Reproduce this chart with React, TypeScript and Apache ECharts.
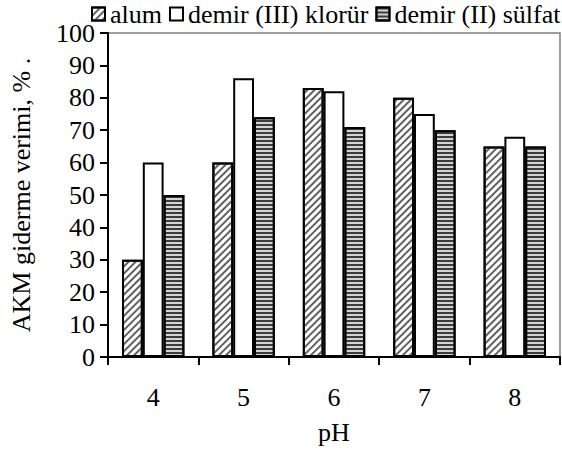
import React, { useEffect, useRef } from "react";
import * as echarts from "echarts";

const categories = ["4", "5", "6", "7", "8"];
const alum = [30, 60, 83, 80, 65];
const demir3 = [60, 86, 82, 75, 68];
const demir2 = [50, 74, 71, 70, 65];
const seriesNames = ["alum", "demir (III) klorür", "demir (II) sülfat"];
const yTickLabels = ["0", "10", "20", "30", "40", "50", "60", "70", "80", "90", "100"];

export default function App() {
  const ref = useRef<HTMLDivElement>(null);
  useEffect(() => {
    if (!ref.current) return;
    const chart = echarts.init(ref.current, null, { renderer: "svg" });
    const font = "Liberation Serif";
    const fs = 26;
    const hatch = {
      symbol: "rect",
      symbolSize: 1,
      color: "#606060",
      backgroundColor: "#fff",
      dashArrayX: [1, 0],
      dashArrayY: [1.2, 2.8],
      rotation: -Math.PI / 4,
    };
    const stripes = {
      symbol: "rect",
      symbolSize: 1,
      color: "#3c3c3c",
      backgroundColor: "#d4d4d4",
      dashArrayX: [1, 0],
      dashArrayY: [2, 2],
      rotation: 0,
    };
    const border = { borderColor: "#000", borderWidth: 2 };
    chart.setOption({
      animation: false,
      textStyle: { fontFamily: font, color: "#000", fontSize: fs },
      legend: {
        top: 1,
        left: 91,
        itemGap: 7,
        itemWidth: 13,
        itemHeight: 13,
        icon: "rect",
        padding: 0,
        textStyle: { fontFamily: font, fontSize: fs, color: "#000" },
        data: seriesNames,
      },
      grid: {
        left: 105,
        right: 2,
        top: 33,
        bottom: 93,
        show: true,
        borderColor: "#808080",
        borderWidth: 1.5,
        backgroundColor: "transparent",
      },
      xAxis: {
        type: "category",
        data: categories,
        name: "pH",
        nameLocation: "middle",
        nameGap: 62,
        nameTextStyle: { fontFamily: font, fontSize: fs, color: "#000" },
        axisLine: { lineStyle: { color: "#000", width: 2 } },
        axisTick: { show: true, length: 8, lineStyle: { color: "#000", width: 2 } },
        axisLabel: { fontFamily: font, fontSize: fs, color: "#000", margin: 27 },
      },
      yAxis: {
        type: "value",
        min: 0,
        max: 100,
        interval: 10,
        name: "AKM giderme verimi, % .",
        nameLocation: "middle",
        nameGap: 74,
        nameTextStyle: { fontFamily: font, fontSize: fs, color: "#000" },
        axisLine: { show: true, lineStyle: { color: "#000", width: 2 } },
        axisTick: { show: true, length: 8, lineStyle: { color: "#000", width: 2 } },
        splitLine: { show: false },
        axisLabel: {
          fontFamily: font,
          fontSize: fs,
          color: "#000",
          margin: 13,
          formatter: (v: number) => yTickLabels[Math.round(v / 10)] ?? String(v),
        },
      },
      series: [
        {
          name: seriesNames[0],
          type: "bar",
          data: alum,
          barGap: "0%",
          barCategoryGap: "31%",
          itemStyle: { color: "#fff", decal: hatch, ...border },
        },
        {
          name: seriesNames[1],
          type: "bar",
          data: demir3,
          barGap: "0%",
          barCategoryGap: "31%",
          itemStyle: { color: "#fff", ...border },
        },
        {
          name: seriesNames[2],
          type: "bar",
          data: demir2,
          barGap: "0%",
          barCategoryGap: "31%",
          itemStyle: { color: "#d4d4d4", decal: stripes, ...border },
        },
      ],
    });
    return () => chart.dispose();
  }, []);
  return <div ref={ref} style={{ width: 562, height: 450, position: "absolute", left: 0, top: 0 }} />;
}
